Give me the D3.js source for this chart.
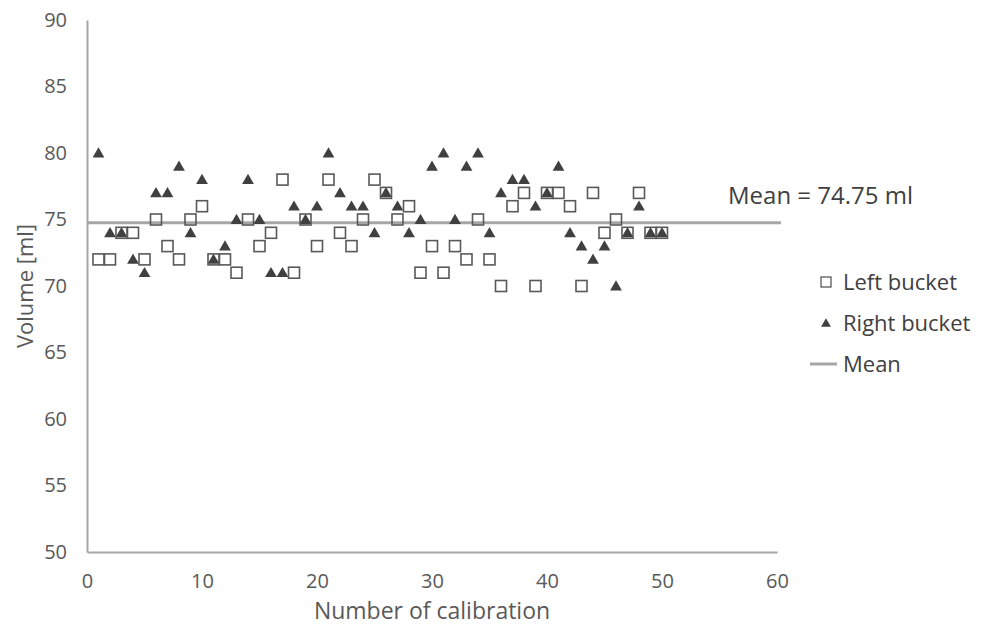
<!DOCTYPE html>
<html>
<head>
<meta charset="utf-8">
<script src="https://cdn.jsdelivr.net/npm/d3@7"></script>
<style>
    body { margin: 0; background: #fff; }
    text { font-family: "Open Sans", "Noto Sans", sans-serif; }
</style>
</head>
<body>
<div id="chart"></div>
<script>
// calibration number 1..50
const calibration = d3.range(1, 51);
const leftBucket = [72, 72, 74, 74, 72, 75, 73, 72, 75, 76, 72, 72, 71, 75, 73, 74, 78, 71, 75, 73,
    78, 74, 73, 75, 78, 77, 75, 76, 71, 73, 71, 73, 72, 75, 72, 70, 76, 77, 70, 77,
    77, 76, 70, 77, 74, 75, 74, 77, 74, 74];
const rightBucket = [80, 74, 74, 72, 71, 77, 77, 79, 74, 78, 72, 73, 75, 78, 75, 71, 71, 76, 75, 76,
    80, 77, 76, 76, 74, 77, 76, 74, 75, 79, 80, 75, 79, 80, 74, 77, 78, 78, 76, 77,
    79, 74, 73, 72, 73, 70, 74, 76, 74, 74];
const meanValue = 74.75;
const xTicks = [0, 10, 20, 30, 40, 50, 60];
const yTicks = [50, 55, 60, 65, 70, 75, 80, 85, 90];
const legendItems = ["Left bucket", "Right bucket", "Mean"];

const width = 985, height = 630;
const margin = { top: 20, right: 208, bottom: 78, left: 87 };
const axisColor = "#a6a6a6";
const textColor = "#595959";

const svg = d3.select("#chart").append("svg")
    .attr("width", width)
    .attr("height", height);

const x = d3.scaleLinear().domain([0, 60]).range([margin.left, width - margin.right]);
const y = d3.scaleLinear().domain([50, 90]).range([height - margin.bottom, margin.top]);

// axes (no tick marks, just the lines and labels)
const yAxis = svg.append("g")
    .attr("transform", `translate(${margin.left},0)`)
    .call(d3.axisLeft(y).tickValues(yTicks).tickSize(0).tickPadding(20));
const xAxis = svg.append("g")
    .attr("transform", `translate(0,${height - margin.bottom})`)
    .call(d3.axisBottom(x).tickValues(xTicks).tickSize(0).tickPadding(22));

[xAxis, yAxis].forEach(a => {
    a.select(".domain").attr("stroke", axisColor).attr("stroke-width", 2);
    a.selectAll("text").attr("fill", textColor).attr("font-size", "20px")
        .attr("font-family", "Open Sans");
});

// mean line
svg.append("line")
    .attr("x1", x(0)).attr("x2", x(60) + 4)
    .attr("y1", y(meanValue)).attr("y2", y(meanValue))
    .attr("stroke", axisColor)
    .attr("stroke-width", 3);

const sq = 11;
const triangle = d3.symbol().type(d3.symbolTriangle).size(60);

// right bucket
svg.append("g").selectAll("path")
    .data(rightBucket)
    .join("path")
    .attr("d", triangle)
    .attr("transform", (d, i) => `translate(${x(calibration[i])},${y(d) + 1})`)
    .attr("fill", "#404040");

// left bucket
svg.append("g").selectAll("rect")
    .data(leftBucket)
    .join("rect")
    .attr("x", (d, i) => x(calibration[i]) - sq / 2)
    .attr("y", d => y(d) - sq / 2)
    .attr("width", sq)
    .attr("height", sq)
    .attr("fill", "none")
    .attr("stroke", "#595959")
    .attr("stroke-width", 1.6);

// mean annotation
svg.append("text")
    .attr("x", 728)
    .attr("y", y(meanValue) - 19)
    .attr("fill", "#404040")
    .attr("font-size", "24px")
    .text("Mean = " + meanValue + " ml");

// axis titles
svg.append("text")
    .attr("x", x(30))
    .attr("y", 619)
    .attr("text-anchor", "middle")
    .attr("fill", textColor)
    .attr("font-size", "23px")
    .text("Number of calibration");
svg.append("text")
    .attr("transform", `translate(33,${y(70)}) rotate(-90)`)
    .attr("text-anchor", "middle")
    .attr("fill", textColor)
    .attr("font-size", "22px")
    .text("Volume [ml]");

// legend
const legend = svg.append("g").attr("transform", "translate(826,282)");
legendItems.forEach((name, i) => {
    const g = legend.append("g").attr("transform", `translate(0,${i * 41})`);
    if (i === 0) {
        g.append("rect").attr("x", -5).attr("y", -5).attr("width", 10).attr("height", 10)
            .attr("fill", "none").attr("stroke", "#595959").attr("stroke-width", 1.3);
    } else if (i === 1) {
        g.append("path").attr("d", d3.symbol().type(d3.symbolTriangle).size(42))
            .attr("transform", "translate(0,1)").attr("fill", "#404040");
    } else {
        g.append("line").attr("x1", -16).attr("x2", 11).attr("y1", 0).attr("y2", 0)
            .attr("stroke", axisColor).attr("stroke-width", 3);
    }
    g.append("text")
        .attr("x", 17)
        .attr("y", 0)
        .attr("dy", "0.35em")
        .attr("fill", "#404040")
        .attr("font-size", "22px")
        .text(name);
});
</script>
</body>
</html>
